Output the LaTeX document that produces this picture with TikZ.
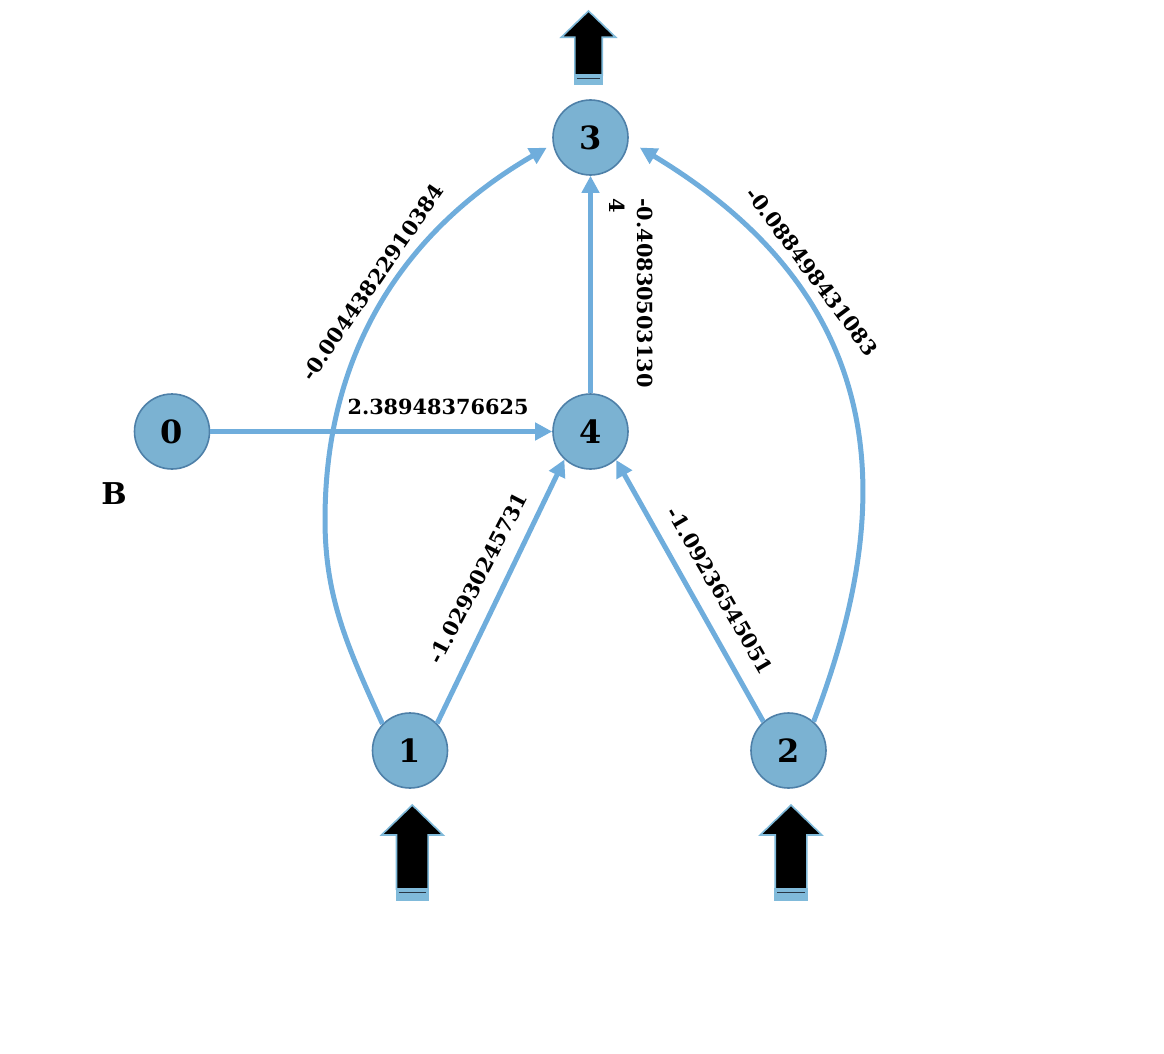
\documentclass[tikz,border=0pt]{standalone}
\usepackage{fontspec}
\setmainfont{DejaVu Serif}
\usetikzlibrary{arrows.meta}
\definecolor{nodefill}{RGB}{123,178,210}
\definecolor{nodeborder}{RGB}{78,128,168}
\definecolor{edgeblue}{RGB}{111,173,220}
\definecolor{arrowband}{RGB}{128,186,218}
\definecolor{bandline}{RGB}{40,55,70}
% #1 centre x, #2 tip y, #3 head half width, #4 shaft half width,
% #5 head base y, #6 bottom y, #7 end of black fill y
\newcommand\mybigarrow[7]{%
  \fill[arrowband] (#1-#4,-#7) rectangle (#1+#4,-#6);
  \draw[arrowband, line width=1.6pt, fill=black, line join=miter]
    (#1,-#2) -- (#1+#3,-#5) -- (#1+#4,-#5) -- (#1+#4,-#7) --
    (#1-#4,-#7) -- (#1-#4,-#5) -- (#1-#3,-#5) -- cycle;
  \draw[arrowband, line width=1.6pt] (#1-#4,-#7) rectangle (#1+#4,-#6);
  \draw[bandline, line width=1.4pt] (#1-#4+2,-#7-3.5) -- (#1+#4-2,-#7-3.5);
}
\begin{document}
\begin{tikzpicture}[x=1pt,y=1pt,
  vertex/.style={circle, fill=nodefill, draw=nodeborder, line width=1.6pt,
    minimum size=75pt, inner sep=0pt, font=\fontsize{32}{36}\selectfont\bfseries},
  edge/.style={draw=edgeblue, line width=5pt,
    -{Triangle[length=17pt,width=17pt]}},
  wlabel/.style={font=\fontsize{20.8}{25}\selectfont\bfseries, inner sep=0pt},
]
\useasboundingbox (0,0) rectangle (1164,-1054);

% vertices
\node[vertex] (n3) at (590.5,-137.5) {3};
\node[vertex] (n4) at (590.5,-431.5) {4};
\node[vertex] (n0) at (172,-431.5) {0};
\node[vertex] (n1) at (410,-750.5) {1};
\node[vertex] (n2) at (788.5,-750.5) {2};
\node[font=\fontsize{30}{34}\selectfont\bfseries, inner sep=0pt] (lb) at (114,-494) {B};
\coordinate (c13) at (325,-520);

% connectors
\draw[edge] (n0.east) -- (n4.west);
\draw[edge] (n4.north) -- (n3.south);
\draw[edge] (n1.45) -- (n4.227);
\draw[edge] (n2.131) -- (n4.312);
\draw[edge, shorten >=7pt] (n1.136) .. controls (348,-648) and (325,-598) .. (c13)
  .. controls (325,-340) and (415,-224) .. (n3.190);
\draw[edge, shorten >=13pt] (n2.49) .. controls (892,-516.5) and (902,-305.6) .. (n3.355);

% weights
\node[wlabel] (w04) at (438,-407) {2.38948376625};
\node[wlabel, rotate=55.3] (w13) at (372.5,-282.5) {-0.00443822910384};
\node[wlabel, rotate=-53.2] (w23) at (812,-271.5) {-0.088498431083};
\node[wlabel, rotate=62.5] (w14) at (478,-578) {-1.02930245731};
\node[wlabel, rotate=-59.8] (w24) at (720,-590.5) {-1.09236545051};
\node[wlabel, rotate=-90, align=left, font=\fontsize{20.8}{28.3}\selectfont\bfseries]
  (w43) at (631,-293) {-0.40830503130\\4};

% input / output block arrows
\mybigarrow{588.5}{11}{27.2}{13.7}{37.3}{84.3}{75}
\mybigarrow{412.3}{805}{30.8}{15.8}{835}{900.5}{889}
\mybigarrow{791}{805}{30.8}{15.8}{835}{900.5}{889}
\end{tikzpicture}
\end{document}
